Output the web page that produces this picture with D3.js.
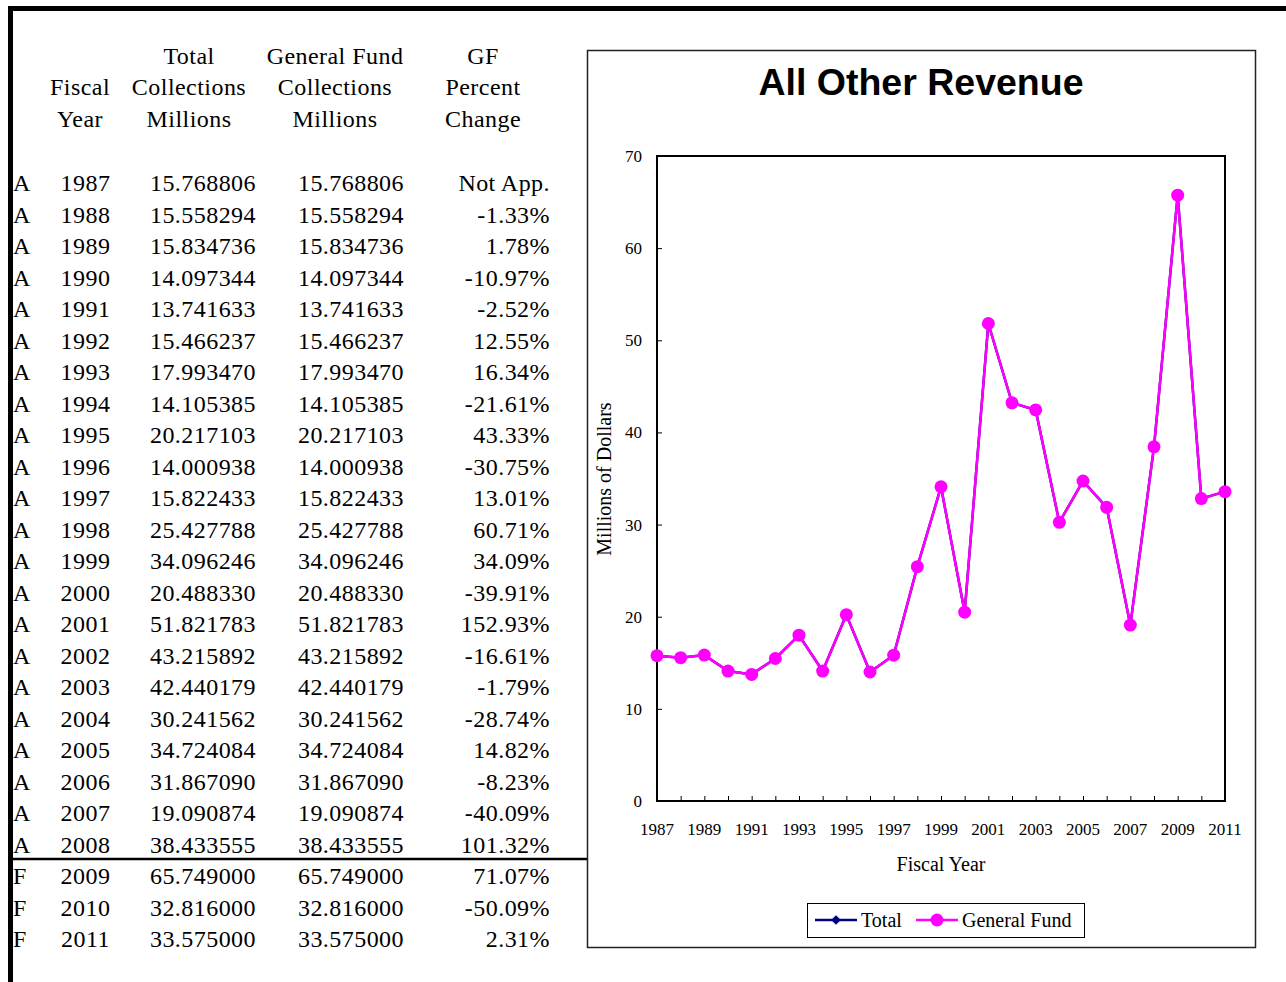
<!DOCTYPE html>
<html>
<head>
<meta charset="utf-8">
<script src="https://cdn.jsdelivr.net/npm/d3@7"></script>
<style>
  body { margin: 0; background: #fff; }
  svg { display: block; }
  .serif { font-family: "Liberation Serif", "Times New Roman", serif; fill: #000; }
</style>
</head>
<body>
<div id="page"></div>
<script>
// table + chart data
const years = [1987,1988,1989,1990,1991,1992,1993,1994,1995,1996,1997,1998,1999,2000,2001,2002,2003,2004,2005,2006,2007,2008,2009,2010,2011]
const status = ['A','A','A','A','A','A','A','A','A','A','A','A','A','A','A','A','A','A','A','A','A','A','F','F','F']
const totalCollections = [15.768806,15.558294,15.834736,14.097344,13.741633,15.466237,17.993470,14.105385,20.217103,14.000938,15.822433,25.427788,34.096246,20.488330,51.821783,43.215892,42.440179,30.241562,34.724084,31.867090,19.090874,38.433555,65.749000,32.816000,33.575000]
const gfCollections = [15.768806,15.558294,15.834736,14.097344,13.741633,15.466237,17.993470,14.105385,20.217103,14.000938,15.822433,25.427788,34.096246,20.488330,51.821783,43.215892,42.440179,30.241562,34.724084,31.867090,19.090874,38.433555,65.749000,32.816000,33.575000]
const gfPctChange = ['Not App.','-1.33%','1.78%','-10.97%','-2.52%','12.55%','16.34%','-21.61%','43.33%','-30.75%','13.01%','60.71%','34.09%','-39.91%','152.93%','-16.61%','-1.79%','-28.74%','14.82%','-8.23%','-40.09%','101.32%','71.07%','-50.09%','2.31%']
const yTicks = [0,10,20,30,40,50,60,70]
const xTickYears = [1987,1989,1991,1993,1995,1997,1999,2001,2003,2005,2007,2009,2011]

const W = 1286, H = 982
const svg = d3.select('#page').append('svg')
    .attr('width', W)
    .attr('height', H)

// page frame (top + left heavy rules)
svg.append('rect').attr('x', 8).attr('y', 6).attr('width', W-8).attr('height', 5).attr('fill', '#000')
svg.append('rect').attr('x', 8).attr('y', 6).attr('width', 5).attr('height', H-6).attr('fill', '#000')

// ---- table ----
const table = svg.append('g').attr('class', 'serif')
    .style('font-size', '24px')
    .style('letter-spacing', '0.45px')
const headers = [
    { x: 80, lines: ['', 'Fiscal', 'Year'] },
    { x: 189, lines: ['Total', 'Collections', 'Millions'] },
    { x: 335, lines: ['General Fund', 'Collections', 'Millions'] },
    { x: 483, lines: ['GF', 'Percent', 'Change'] },
]
const headBase = [64, 95, 127]
headers.forEach(h=>{
    h.lines.forEach((t,i)=>{
        if(!t) return
        table.append('text').attr('x', h.x).attr('y', headBase[i])
            .attr('text-anchor', 'middle').text(t)
    })
})

const rowY = d3.scaleLinear().domain([0, years.length-1]).range([191, 947])
const rows = table.selectAll('g.row').data(years).join('g')
    .attr('class', 'row')
    .attr('transform', (d,i)=>`translate(0, ${rowY(i)})`)
rows.append('text').attr('x', 13).text((d,i)=>status[i])
rows.append('text').attr('x', 85.5).attr('text-anchor', 'middle').text(d=>d)
rows.append('text').attr('x', 256).attr('text-anchor', 'end').text((d,i)=>totalCollections[i].toFixed(6))
rows.append('text').attr('x', 404).attr('text-anchor', 'end').text((d,i)=>gfCollections[i].toFixed(6))
rows.append('text').attr('x', 550).attr('text-anchor', 'end').text((d,i)=>gfPctChange[i])

// actual / forecast divider
svg.append('line')
    .attr('x1', 8).attr('x2', 587)
    .attr('y1', 859).attr('y2', 859)
    .attr('stroke', '#000').attr('stroke-width', 2.5)

// ---- chart ----
svg.append('rect')
    .attr('x', 587.5).attr('y', 50.5).attr('width', 668).attr('height', 897)
    .attr('fill', '#fff').attr('stroke', '#222').attr('stroke-width', 1.5)

svg.append('text')
    .attr('x', 921).attr('y', 95)
    .attr('text-anchor', 'middle')
    .style('font-family', '"Liberation Sans", Arial, sans-serif')
    .style('font-weight', 'bold')
    .style('font-size', '37.5px')
    .text('All Other Revenue')

const plot = { left: 657, right: 1225, top: 156, bottom: 801 }
const xScale = d3.scaleLinear().domain([1987, 2011]).range([plot.left, plot.right])
const yScale = d3.scaleLinear().domain([0, 70]).range([plot.bottom, plot.top])

const chart = svg.append('g')

// inner ticks
chart.append('g')
    .attr('transform', `translate(${plot.left},0)`)
    .call(d3.axisRight(yScale).tickValues(yTicks).tickSize(5).tickFormat(''))
    .call(g=>g.select('.domain').remove())
chart.append('g')
    .attr('transform', `translate(0,${plot.bottom})`)
    .call(d3.axisTop(xScale).tickValues(years).tickSize(5).tickFormat(''))
    .call(g=>g.select('.domain').remove())

chart.append('rect')
    .attr('x', plot.left).attr('y', plot.top)
    .attr('width', plot.right-plot.left).attr('height', plot.bottom-plot.top)
    .attr('fill', 'none').attr('stroke', '#000').attr('stroke-width', 2)

// tick labels
const lab = chart.append('g').attr('class', 'serif').style('font-size', '17px')
lab.selectAll('text.yl').data(yTicks).join('text')
    .attr('class', 'yl')
    .attr('x', 642).attr('y', d=>yScale(d)+6)
    .attr('text-anchor', 'end').text(d=>d)
lab.selectAll('text.xl').data(xTickYears).join('text')
    .attr('class', 'xl')
    .attr('x', d=>xScale(d)).attr('y', 835)
    .attr('text-anchor', 'middle').text(d=>d)

chart.append('text').attr('class', 'serif')
    .attr('transform', 'translate(611,479) rotate(-90)')
    .attr('text-anchor', 'middle')
    .style('font-size', '20px')
    .text('Millions of Dollars')
chart.append('text').attr('class', 'serif')
    .attr('x', 941).attr('y', 871)
    .attr('text-anchor', 'middle')
    .style('font-size', '20px')
    .text('Fiscal Year')

// series
const line = d3.line().x((d,i)=>xScale(years[i])).y(d=>yScale(d))
chart.append('path').datum(totalCollections)
    .attr('d', line).attr('fill', 'none')
    .attr('stroke', '#000080').attr('stroke-width', 2.5)
chart.selectAll('path.tot').data(totalCollections).join('path')
    .attr('class', 'tot')
    .attr('transform', (d,i)=>`translate(${xScale(years[i])},${yScale(d)})`)
    .attr('d', d3.symbol(d3.symbolDiamond2, 60))
    .attr('fill', '#000080')
chart.append('path').datum(gfCollections)
    .attr('d', line).attr('fill', 'none')
    .attr('stroke', '#ff00ff').attr('stroke-width', 2.5)
chart.selectAll('circle.gf').data(gfCollections).join('circle')
    .attr('class', 'gf')
    .attr('cx', (d,i)=>xScale(years[i])).attr('cy', d=>yScale(d))
    .attr('r', 6.5).attr('fill', '#ff00ff')

// legend
const leg = svg.append('g')
leg.append('rect')
    .attr('x', 807.5).attr('y', 903.5).attr('width', 277).attr('height', 34)
    .attr('fill', '#fff').attr('stroke', '#000').attr('stroke-width', 1)
leg.append('line').attr('x1', 815).attr('x2', 857).attr('y1', 920).attr('y2', 920)
    .attr('stroke', '#000080').attr('stroke-width', 2.5)
leg.append('path').attr('transform', 'translate(836,920)')
    .attr('d', d3.symbol(d3.symbolDiamond2, 60)).attr('fill', '#000080')
leg.append('text').attr('class', 'serif').attr('x', 861).attr('y', 927)
    .style('font-size', '20px').text('Total')
leg.append('line').attr('x1', 916).attr('x2', 958).attr('y1', 920).attr('y2', 920)
    .attr('stroke', '#ff00ff').attr('stroke-width', 2.5)
leg.append('circle').attr('cx', 937).attr('cy', 920).attr('r', 6.5).attr('fill', '#ff00ff')
leg.append('text').attr('class', 'serif').attr('x', 962).attr('y', 927)
    .style('font-size', '20px').text('General Fund')
</script>
</body>
</html>
